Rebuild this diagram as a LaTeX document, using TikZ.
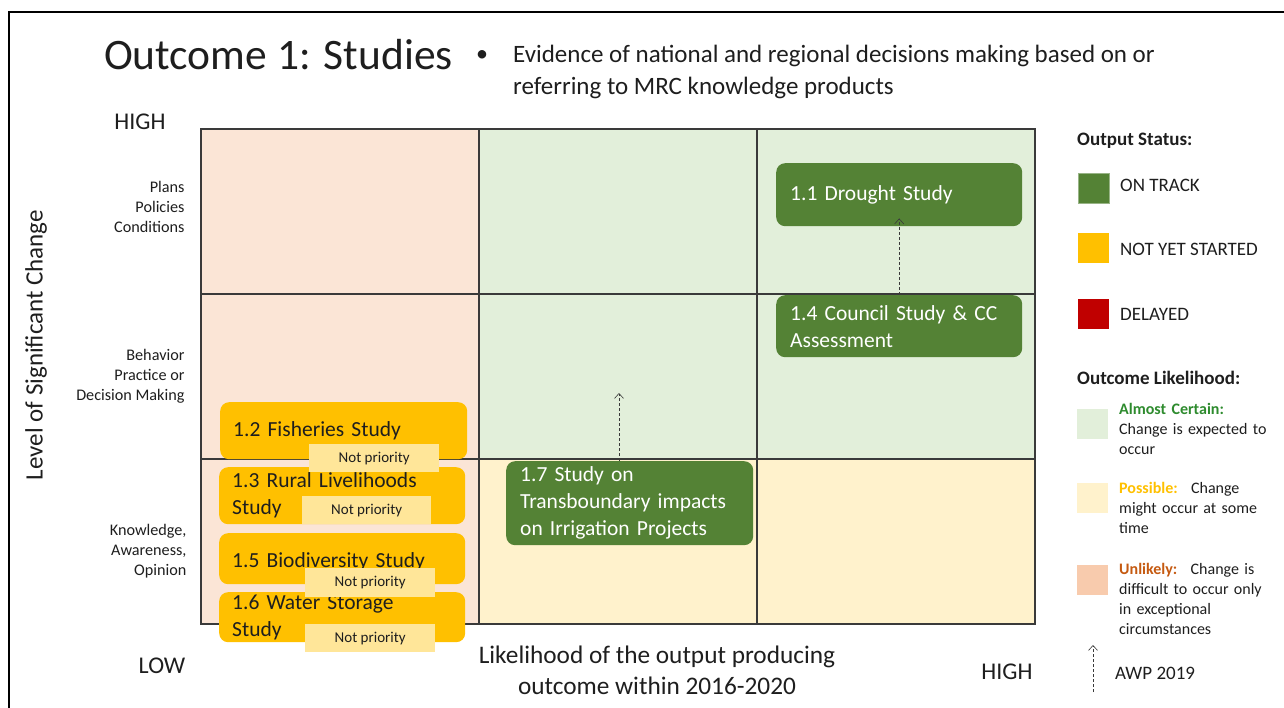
\documentclass[tikz,border=0pt]{standalone}
\usepackage{fontspec}
\setmainfont{Carlito}
\usetikzlibrary{arrows.meta}
\definecolor{cgreen}{HTML}{E2EFDA}
\definecolor{cyellow}{HTML}{FFF2CC}
\definecolor{cpink}{HTML}{FBE5D6}
\definecolor{dgreen}{HTML}{548235}
\definecolor{gold}{HTML}{FFC000}
\definecolor{lgold}{HTML}{FFE699}
\definecolor{dred}{HTML}{C00000}
\definecolor{salmon}{HTML}{F8CBAD}
\definecolor{txtgreen}{HTML}{2E8B2E}
\definecolor{txtorange}{HTML}{C55A11}
\definecolor{ink}{HTML}{1E1E1E}
\definecolor{gridline}{HTML}{3A3A3A}
\tikzset{
  every node/.style={text=ink},
  cell/.style={draw=gridline, line width=1.3pt},
  greenbox/.style={fill=dgreen, rounded corners=9pt, anchor=north west, inner xsep=14pt, inner ysep=0pt, align=left, text=white, font=\fontsize{21.5}{27}\selectfont},
  goldbox/.style={fill=gold, rounded corners=9pt, anchor=north west, inner xsep=13pt, inner ysep=0pt, align=left, text=ink, font=\fontsize{21.5}{27}\selectfont},
  nptag/.style={fill=lgold, anchor=north west, inner sep=0pt, font=\fontsize{15}{16}\selectfont, text=ink},
  awp/.style={draw=gridline, line width=0.6pt, densely dashed, -{Straight Barb[length=5pt,width=9pt]}},
  ylab/.style={anchor=east, align=right, font=\fontsize{16.2}{20}\selectfont},
  legtxt/.style={anchor=north west, align=left, inner sep=0pt, text width=165pt, font=\fontsize{16}{20}\selectfont},
  legkey/.style={anchor=west, inner sep=0pt, font=\fontsize{19}{22}\selectfont},
  leghead/.style={anchor=west, inner sep=0pt, font=\bfseries\fontsize{19}{22}\selectfont},
  axlab/.style={font=\fontsize{24}{28}\selectfont},
  swatch/.style={anchor=north west, inner sep=0pt, minimum width=31pt, minimum height=30pt},
}
\begin{document}
\begin{tikzpicture}[x=1pt,y=-1pt]
\useasboundingbox (0,0) rectangle (1284,708);
% frame
\draw[line width=2pt] (9,708) -- (9,12) -- (1284,12);
% cells
\fill[cpink] (201,129) rectangle (479,624);
\fill[cgreen] (479,129) rectangle (1035,459);
\fill[cyellow] (479,459) rectangle (1035,624);
\draw[cell] (201,129) rectangle (1035,624);
\draw[cell] (479,129) -- (479,624) (757,129) -- (757,624);
\draw[cell] (201,294) -- (1035,294) (201,459) -- (1035,459);
% title
\node[anchor=base west, inner sep=0pt, font=\fontsize{43.5}{50}\selectfont] (title) at (104,70) {Outcome 1: Studies};
\node[anchor=center, inner sep=0pt, font=\fontsize{24}{24}\selectfont] (bullet) at (482,56) {•};
\node[anchor=north west, align=left, inner sep=0pt, font=\fontsize{25}{32}\selectfont] (sub) at (513,45) {Evidence of national and regional decisions making based on or\\referring to MRC knowledge products};
% axis labels
\node[axlab] (yhigh) at (140,122) {HIGH};
\node[axlab] (ylow) at (162,666) {LOW};
\node[axlab] (xhigh) at (1007,672) {HIGH};
\node[rotate=90, font=\fontsize{25}{28}\selectfont] (yaxis) at (36,345) {Level of Significant Change};
\node[align=center, font=\fontsize{25.3}{31}\selectfont] (xaxis) at (657,670) {Likelihood of the output producing\\outcome within 2016-2020};
\node[ylab] (l1) at (188,207) {Plans\\Policies\\Conditions};
\node[ylab] (l2) at (188,376) {Behavior\\Practice or\\Decision Making};
\node[ylab] (l3) at (190,551) {Knowledge,\\Awareness,\\Opinion};
% green boxes
\node[greenbox, minimum height=63pt, text width=218pt] (b11) at (776,163) {1.1 Drought Study};
\node[greenbox, minimum height=62pt, text width=218pt] (b14) at (776,295) {1.4 Council Study \& CC\\Assessment};
\node[greenbox, minimum height=84pt, text width=219pt] (b17) at (506,461) {1.7 Study on\\Transboundary impacts\\on Irrigation Projects};
% gold boxes
\node[goldbox, minimum height=57pt, text width=221pt] (b12) at (220,402) {1.2 Fisheries Study};
\node[goldbox, minimum height=57pt, text width=220pt] (b13) at (219,467) {1.3 Rural Livelihoods\\Study};
\node[goldbox, minimum height=51pt, text width=220pt] (b15) at (219,533) {\smash{\raisebox{-9pt}{1.5 Biodiversity Study}}};
\node[goldbox, minimum height=50pt, text width=220pt] (b16) at (219,592) {1.6 Water Storage\\Study};
% not priority tags
\node[nptag, minimum width=130pt, minimum height=28pt] (np1) at (309,444) {Not priority};
\node[nptag, minimum width=129pt, minimum height=28pt] (np2) at (302,496) {Not priority};
\node[nptag, minimum width=130pt, minimum height=29pt] (np3) at (305,568) {Not priority};
\node[nptag, minimum width=130pt, minimum height=28pt] (np4) at (305,624) {Not priority};
% AWP arrows
\draw[awp] (b14.north) -- ([yshift=8pt]b11.south);
\coordinate (t17) at (619,393);
\draw[awp] (b17.north -| t17) -- (t17);
% legend
\node[leghead] (os) at (1077,141) {Output Status:};
\node[swatch, fill=dgreen, draw=dgreen!60] (s1) at (1078,173) {};
\node[swatch, fill=gold] (s2) at (1078,233) {};
\node[swatch, fill=dred] (s3) at (1078,299) {};
\node[legkey] (t1) at (1120,185) {ON TRACK};
\node[legkey] (t2) at (1120,249) {NOT YET STARTED};
\node[legkey] (t3) at (1120,314) {DELAYED};
\node[leghead] (ol) at (1077,378) {Outcome Likelihood:};
\node[swatch, fill=cgreen] (s4) at (1077,409) {};
\node[swatch, fill=cyellow] (s5) at (1077,483) {};
\node[swatch, fill=salmon] (s6) at (1077,565) {};
\node[legtxt] (d1) at (1119,403) {\textcolor{txtgreen}{\textbf{Almost Certain:}}\\Change is expected to\\occur};
\node[legtxt] (d2) at (1119,482) {\textcolor{gold}{\textbf{Possible:}}~ Change\\might occur at some\\time};
\node[legtxt] (d3) at (1119,563) {\textcolor{txtorange}{\textbf{Unlikely:}}~ Change is\\difficult to occur only\\in exceptional\\circumstances};
\coordinate (la0) at (1093,692);
\coordinate (la1) at (1093,645);
\draw[awp] (la0) -- (la1);
\node[legkey] (awpt) at (1115,673) {AWP 2019};
\end{tikzpicture}
\end{document}
